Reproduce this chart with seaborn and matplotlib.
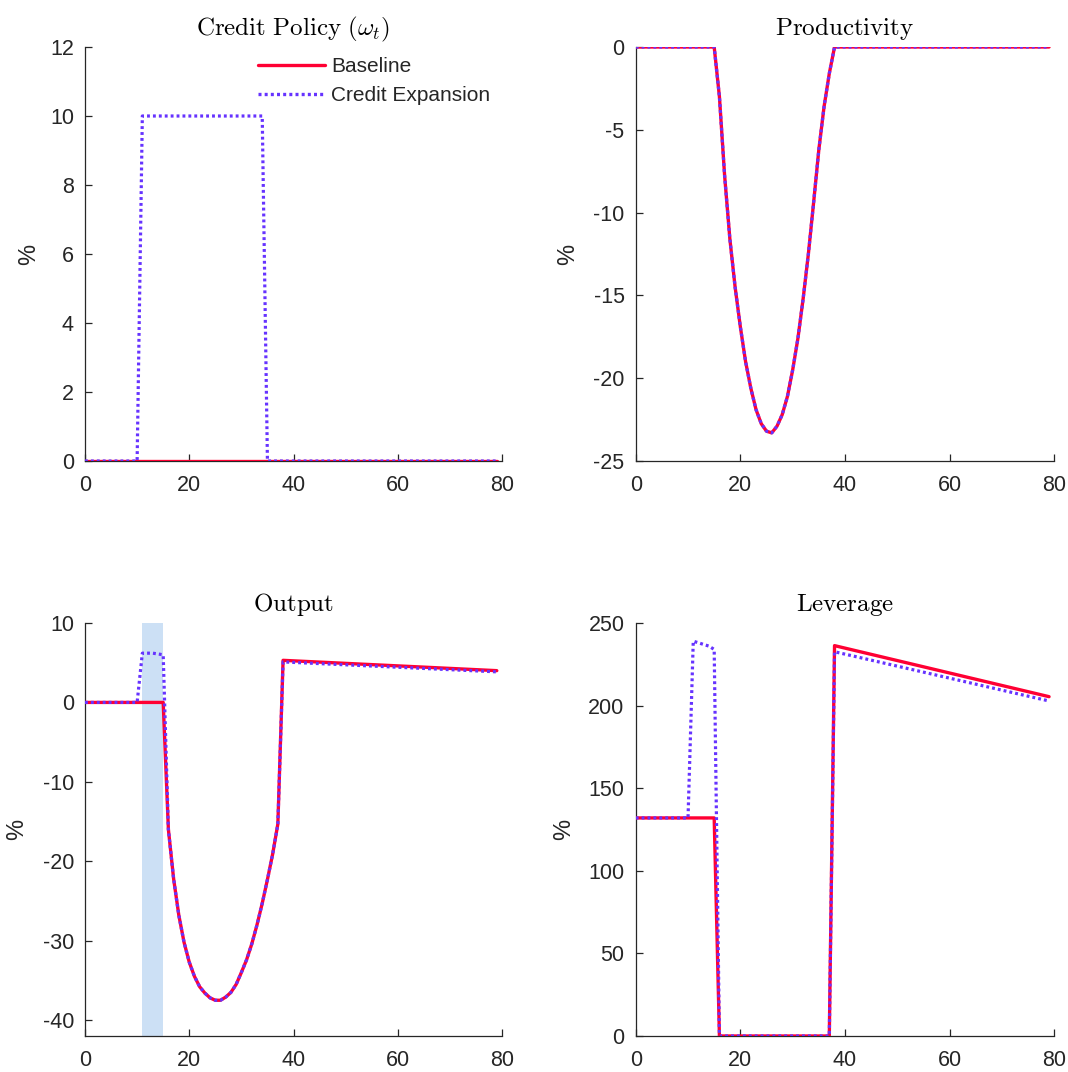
import numpy as np
import pandas as pd
import matplotlib
matplotlib.use("Agg")
import matplotlib.pyplot as plt
import seaborn as sns

# ---------------- data ----------------
# Credit policy (omega_t)
t_credit = [0, 10, 11, 34, 35, 79]
credit_base = [0, 0, 0, 0, 0, 0]
credit_exp = [0, 0, 10, 10, 0, 0]

# Productivity (identical for both scenarios)
t_prod = [0, 15, 16, 17, 18, 19, 20, 21, 22, 23, 24, 25, 26, 27, 28, 29, 30,
          31, 32, 33, 34, 35, 36, 37, 38, 79]
prod_vals = [0, 0, -3.0, -7.8, -11.6, -14.5, -16.9, -19.0, -20.6, -21.9, -22.75,
             -23.2, -23.3, -22.9, -22.2, -21.1, -19.5, -17.6, -15.2, -12.5, -9.4,
             -6.2, -3.6, -1.6, 0, 0]

# Output
t_out_base = [0, 15, 16, 17, 18, 19, 20, 21, 22, 23, 24, 25, 26, 27, 28, 29, 30,
              31, 32, 33, 34, 35, 36, 37, 38, 79]
out_base = [0, 0, -16.0, -22.2, -26.8, -30.2, -32.7, -34.5, -35.8, -36.6, -37.2,
            -37.5, -37.5, -37.1, -36.5, -35.5, -34.0, -32.4, -30.4, -28.0, -25.3,
            -22.3, -19.1, -15.3, 5.3, 4.0]
t_out_exp = [0, 10, 11, 12, 13, 14, 15, 16, 17, 18, 19, 20, 21, 22, 23, 24, 25, 26,
             27, 28, 29, 30, 31, 32, 33, 34, 35, 36, 37, 38, 79]
out_exp = [0, 0, 6.2, 6.2, 6.2, 6.1, 6.0, -16.0, -22.2, -26.8, -30.2, -32.7, -34.5,
           -35.8, -36.6, -37.2, -37.5, -37.5, -37.1, -36.5, -35.5, -34.0, -32.4,
           -30.4, -28.0, -25.3, -22.3, -19.1, -15.3, 5.1, 3.85]

# Leverage
t_lev_base = [0, 15, 16, 37, 38, 79]
lev_base = [132, 132, 0, 0, 236.3, 205.4]
t_lev_exp = [0, 10, 11, 12, 13, 14, 15, 16, 37, 38, 79]
lev_exp = [132, 132, 239, 238, 237, 236, 234, 0, 0, 232.6, 202.8]

policy_window = (11, 15)

titles = [r"$\mathrm{Credit\ Policy\ }(\omega_t)$", r"$\mathrm{Productivity}$",
          r"$\mathrm{Output}$", r"$\mathrm{Leverage}$"]
labels = ["Baseline", "Credit Expansion"]

# ---------------- style ----------------
sns.set_style("ticks")
plt.rcParams["font.family"] = ["Liberation Sans", "DejaVu Sans"]
plt.rcParams["mathtext.fontset"] = "cm"
plt.rcParams["axes.unicode_minus"] = False

RED = "#FF0033"
BLUE = "#6633FF"
SHADE = "#CCE0F5"
AX_COL = "#262626"

fig = plt.figure(figsize=(10.68, 10.72), dpi=100)
W, H = 1068, 1072

def add_axes(left, top, right, bottom):
    return fig.add_axes([left / W, 1 - bottom / H, (right - left) / W, (bottom - top) / H])

ax1 = add_axes(85, 47, 502, 461)
ax2 = add_axes(635.7, 47, 1054.3, 461)
ax3 = add_axes(85, 623, 502, 1036)
ax4 = add_axes(635.7, 623, 1054.3, 1036)

def draw(ax, tb, yb, te, ye):
    df_b = pd.DataFrame({"t": tb, "v": yb})
    df_e = pd.DataFrame({"t": te, "v": ye})
    sns.lineplot(data=df_b, x="t", y="v", ax=ax, color=RED, lw=2.4,
                 label=labels[0], zorder=3)
    sns.lineplot(data=df_e, x="t", y="v", ax=ax, color=BLUE, lw=2.3,
                 label=labels[1], zorder=4)
    ax.lines[-1].set_dashes((0.9, 0.95))
    ax.lines[-1].set_dash_capstyle("butt")

draw(ax1, t_credit, credit_base, t_credit, credit_exp)
draw(ax2, t_prod, prod_vals, t_prod, prod_vals)
ax3.axvspan(policy_window[0], policy_window[1], color=SHADE, lw=0, zorder=1)
draw(ax3, t_out_base, out_base, t_out_exp, out_exp)
draw(ax4, t_lev_base, lev_base, t_lev_exp, lev_exp)

ylims = [(0, 12), (-25, 0), (-42, 10), (0, 250)]
yticks = [[0, 2, 4, 6, 8, 10, 12], [-25, -20, -15, -10, -5, 0],
          [-40, -30, -20, -10, 0, 10], [0, 50, 100, 150, 200, 250]]
ylab_x = [-0.108, -0.135, -0.137, -0.145]

for i, ax in enumerate([ax1, ax2, ax3, ax4]):
    ax.set_xlim(0, 80)
    ax.set_ylim(*ylims[i])
    ax.set_xticks([0, 20, 40, 60, 80])
    ax.set_yticks(yticks[i])
    ax.set_yticklabels([str(v) for v in yticks[i]])
    ax.set_xlabel("")
    ax.set_ylabel("%", fontsize=17, color=AX_COL)
    ax.yaxis.set_label_coords(ylab_x[i], 0.5)
    ax.set_title(titles[i], fontsize=18, color="black", pad=8.5)
    for s in ["top", "right"]:
        ax.spines[s].set_visible(False)
    for s in ["left", "bottom"]:
        ax.spines[s].set_color(AX_COL)
        ax.spines[s].set_linewidth(0.9)
    ax.tick_params(direction="in", length=5, width=0.9, colors=AX_COL,
                   labelsize=15.5)
    ax.tick_params(axis="y", pad=8)
    ax.tick_params(axis="x", pad=10)
    ax.set_facecolor("white")
    if ax is not ax1:
        leg = ax.get_legend()
        if leg is not None:
            leg.remove()

leg = ax1.legend(loc="upper left", bbox_to_anchor=(0.415, 0.976), frameon=False,
                 fontsize=15, handlelength=3.22, handletextpad=0.29,
                 labelspacing=0.5, borderpad=0, borderaxespad=0)
for line in leg.get_lines():
    line.set_linewidth(2.4)

fig.savefig("out.png", dpi=100, facecolor="white")
